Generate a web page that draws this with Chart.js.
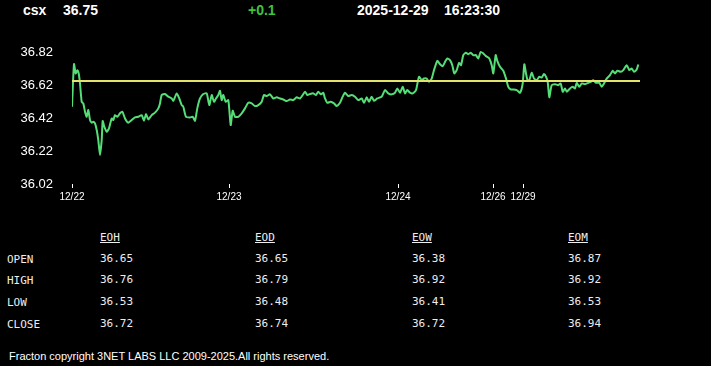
<!DOCTYPE html>
<html>
<head>
<meta charset="utf-8">
<script src="https://cdn.jsdelivr.net/npm/chart.js@4/dist/chart.umd.min.js"></script>
<style>
    html, body { margin: 0; padding: 0; background: #000; }
    body { width: 711px; height: 366px; position: relative; overflow: hidden; color: #fff; font-family: 'Liberation Sans', Arial, sans-serif; }
    .hdr { position: absolute; top: 1px; font-weight: bold; font-size: 14px; line-height: 18px; white-space: nowrap; }
    #chart-wrap { position: absolute; left: 0; top: 30px; width: 711px; height: 180px; }
    .cell { position: absolute; font-family: 'DejaVu Sans Mono', 'Liberation Mono', monospace; font-size: 11px; line-height: 14px; color: #eee; white-space: nowrap; }
    .cell.head { text-decoration: underline; }
    #footer { position: absolute; left: 9px; top: 349px; font-size: 11px; line-height: 14px; white-space: nowrap; }
</style>
</head>
<body>
<div class="hdr" style="left:23px">csx</div>
<div class="hdr" style="left:63px" id="last"></div>
<div class="hdr" style="left:248px;color:#3ec43e" id="change"></div>
<div class="hdr" style="left:357px" id="date"></div>
<div class="hdr" style="left:444px" id="time"></div>
<div id="chart-wrap"><canvas id="chart-price"></canvas></div>
<div id="table"></div>
<div id="footer">Fracton copyright 3NET LABS LLC 2009-2025.All rights reserved.</div>
<script>
// Header
const lastPrice = '36.75';
const changeText = '+0.1';
const dateText = '2025-12-29';
const timeText = '16:23:30';

// Intraday line: position along the trading timeline and price
const timePos = [
    0, 2, 3.7, 5.3, 6.7, 8, 9.7, 11.3, 13, 14.7,
    16.3, 18, 19.7, 21.3, 23, 24.7, 26.3, 28, 29.7, 30.7,
    32.3, 34.7, 37, 39.7, 41.3, 43, 45.3, 48, 50.3, 53,
    56.3, 59.7, 63, 66.3, 69.7, 72, 74, 76.3, 79.7, 83,
    86.3, 88, 89.7, 93, 96.3, 99.7, 101.3, 104.7, 107.3, 109.7,
    111.3, 114, 118, 120.7, 123, 125.3, 128, 131.3, 134.7, 137.3,
    139.7, 142, 144, 146.3, 148, 149.7, 151.3, 153.7, 156.3, 158.7,
    160.7, 163, 166.3, 169.7, 173, 176.3, 179.7, 183, 186.3, 189.7,
    192, 194.7, 198, 201.3, 204.7, 208, 211.3, 214.7, 218, 221.3,
    224.7, 228, 230.7, 233, 235.3, 238, 241.3, 244, 246.3, 249,
    251.3, 253, 255.3, 258.7, 262, 264.7, 268, 270.7, 273, 276.3,
    279.7, 283, 286.3, 289.7, 292, 294.7, 297, 299.7, 302, 305.3,
    309.7, 313, 316.3, 319.7, 323, 325.3, 328, 330.7, 333, 335.3,
    338, 340.7, 344, 347, 349.7, 352, 354.7, 357, 359.7, 362,
    365.3, 368, 370.7, 373, 375.3, 378, 380.3, 382.3, 384.7, 387,
    389, 391.3, 394, 396.3, 398.7, 401.3, 404, 406.3, 408.7, 411.3,
    414, 417.3, 419.7, 421.3, 423.7, 425.3, 428, 431.3, 434, 436.3,
    438.7, 441.3, 444.7, 448, 450.7, 452.3, 454, 455.7, 457.3, 459.7,
    462, 464.7, 467.3, 469.7, 472, 474, 475.7, 477.3, 479.7, 483,
    486.3, 488.7, 490.7, 493, 494.7, 498, 500.7, 503, 504.7, 507.3,
    509.7, 513, 516.3, 518.7, 521.3, 524, 527.3, 529.7, 532, 534.7,
    538, 540.7, 543, 545.3, 548.7, 551.3, 554.7, 557.3, 559.7, 562,
    564.7, 566.3
];
const prices = [
    36.489, 36.748, 36.691, 36.711, 36.691, 36.630, 36.519, 36.509, 36.459, 36.428,
    36.469, 36.408, 36.392, 36.398, 36.388, 36.348, 36.287, 36.196, 36.287, 36.402,
    36.368, 36.337, 36.358, 36.418, 36.408, 36.438, 36.428, 36.449, 36.459, 36.418,
    36.392, 36.408, 36.424, 36.428, 36.438, 36.404, 36.445, 36.412, 36.438, 36.453,
    36.479, 36.509, 36.560, 36.566, 36.550, 36.539, 36.525, 36.570, 36.539, 36.499,
    36.489, 36.428, 36.424, 36.428, 36.404, 36.479, 36.539, 36.566, 36.570, 36.499,
    36.560, 36.519, 36.539, 36.560, 36.586, 36.529, 36.560, 36.519, 36.529, 36.378,
    36.465, 36.428, 36.428, 36.449, 36.479, 36.513, 36.509, 36.493, 36.499, 36.519,
    36.560, 36.554, 36.564, 36.539, 36.546, 36.539, 36.533, 36.523, 36.533, 36.529,
    36.546, 36.539, 36.560, 36.580, 36.560, 36.566, 36.570, 36.560, 36.580, 36.564,
    36.574, 36.539, 36.513, 36.519, 36.509, 36.493, 36.513, 36.550, 36.574, 36.554,
    36.560, 36.550, 36.529, 36.539, 36.513, 36.546, 36.519, 36.550, 36.525, 36.539,
    36.550, 36.590, 36.570, 36.564, 36.574, 36.600, 36.574, 36.610, 36.570, 36.590,
    36.574, 36.570, 36.590, 36.671, 36.650, 36.660, 36.660, 36.640, 36.660, 36.711,
    36.767, 36.747, 36.735, 36.761, 36.782, 36.772, 36.741, 36.691, 36.711, 36.755,
    36.741, 36.802, 36.816, 36.808, 36.816, 36.802, 36.802, 36.782, 36.822, 36.812,
    36.796, 36.782, 36.741, 36.691, 36.802, 36.767, 36.731, 36.707, 36.660, 36.610,
    36.594, 36.594, 36.590, 36.574, 36.630, 36.747, 36.691, 36.646, 36.650, 36.695,
    36.660, 36.650, 36.671, 36.666, 36.687, 36.671, 36.640, 36.546, 36.620, 36.626,
    36.620, 36.630, 36.580, 36.600, 36.580, 36.600, 36.610, 36.600, 36.634, 36.610,
    36.630, 36.626, 36.634, 36.640, 36.650, 36.634, 36.634, 36.610, 36.630, 36.660,
    36.681, 36.707, 36.691, 36.707, 36.701, 36.711, 36.741, 36.711, 36.721, 36.701,
    36.715, 36.745
];
const openPrice = 36.645;
const timeEnd = 568;

// Axis labels
const dayPos = [0, 157, 326, 421, 451];
const dayLabels = ['12/22', '12/23', '12/24', '12/26', '12/29'];
const priceTicks = [36.02, 36.22, 36.42, 36.62, 36.82];

// Summary table
const periods = ['EOH', 'EOD', 'EOW', 'EOM'];
const rowNames = ['OPEN', 'HIGH', 'LOW', 'CLOSE'];
const eoh = ['36.65', '36.76', '36.53', '36.72'];
const eod = ['36.65', '36.79', '36.48', '36.74'];
const eow = ['36.38', '36.92', '36.41', '36.72'];
const eom = ['36.87', '36.92', '36.53', '36.94'];

document.getElementById('last').textContent = lastPrice;
document.getElementById('change').textContent = changeText;
document.getElementById('date').textContent = dateText;
document.getElementById('time').textContent = timeText;

function renderTable() {
    const colX = [100, 255, 412, 568];
    const rowY = [252, 273, 295, 317];
    const cols = [eoh, eod, eow, eom];
    let html = '';
    periods.forEach((p, i) => {
        html += `<div class="cell head" style="left:${colX[i]}px;top:231px">${p}</div>`;
    });
    rowNames.forEach((r, j) => {
        html += `<div class="cell" style="left:7px;top:${rowY[j] + 1}px">${r}</div>`;
        cols.forEach((c, i) => {
            html += `<div class="cell" style="left:${colX[i]}px;top:${rowY[j]}px">${c[j]}</div>`;
        });
    });
    document.getElementById('table').innerHTML = html;
}

// drop the label-overhang padding so the plot area sits where we put it
function noPad(s) {
    s.paddingTop = 0; s.paddingBottom = 0;
    s.paddingLeft = 0; s.paddingRight = 0;
}

function renderChart() {
    const line = timePos.map((t, i) => ({ x: t, y: prices[i] }));
    new Chart(document.getElementById('chart-price'), {
        type: 'line',
        data: {
            datasets: [
                { data: [{ x: 0, y: openPrice }, { x: timeEnd, y: openPrice }], borderColor: '#e4e46c', borderWidth: 2, pointRadius: 0 },
                { data: line, borderColor: '#55dd77', borderWidth: 2, pointRadius: 0, tension: 0.2 },
            ]
        },
        options: {
            responsive: true,
            maintainAspectRatio: false,
            animation: false,
            layout: { padding: { left: 0, right: 71, top: 9, bottom: 0 } },
            plugins: { legend: { display: false }, tooltip: { enabled: false } },
            scales: {
                x: {
                    type: 'linear', min: 0, max: timeEnd,
                    afterBuildTicks: s => { s.ticks = dayPos.map(v => ({ value: v })); },
                    afterFit: s => { s.height = 26; noPad(s); },
                    grid: { display: true, drawOnChartArea: false, drawTicks: true, tickLength: 4, color: '#fff' },
                    border: { display: false },
                    ticks: {
                        autoSkip: false, maxRotation: 0, padding: 3, color: '#fff',
                        font: { family: "'Liberation Sans', Arial, sans-serif", size: 10 },
                        callback: (v, i) => dayLabels[i]
                    }
                },
                y: {
                    min: 36.02, max: 36.9,
                    afterBuildTicks: s => { s.ticks = priceTicks.map(v => ({ value: v })); },
                    afterFit: s => { s.width = 72; noPad(s); },
                    grid: { display: false },
                    border: { display: false },
                    ticks: {
                        padding: 11, color: '#fff',
                        font: { family: "'Liberation Sans', Arial, sans-serif", size: 13 },
                        callback: v => v.toFixed(2)
                    }
                }
            }
        }
    });
}

renderTable();
renderChart();
</script>
</body>
</html>
